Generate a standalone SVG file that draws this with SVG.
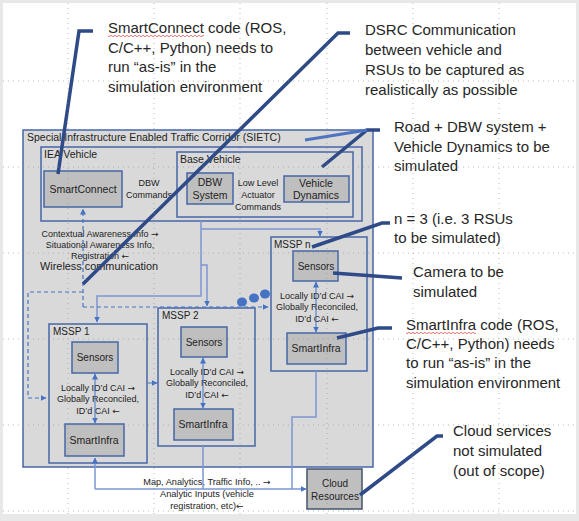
<svg xmlns="http://www.w3.org/2000/svg" width="579" height="521" viewBox="0 0 579 521">
<defs>
<marker id="ah" viewBox="0 0 6 6" refX="5.5" refY="3" markerWidth="6" markerHeight="6" markerUnits="userSpaceOnUse" orient="auto-start-reverse">
<path d="M0,0 L6,3 L0,6 z" fill="#4472c4"/>
</marker>
<style>
text{font-family:"Liberation Sans",Arial,sans-serif;fill:#222}
.ar{font-family:"DejaVu Sans",sans-serif}
.cont{fill:#d9d9d9;stroke:#4766a8;stroke-width:1.5}
.box{fill:#bfbfbf;stroke:#4766a8;stroke-width:1.5}
.lbl{font-size:10.5px}
.bl{font-size:10.5px;text-anchor:middle}
.sm{font-size:9px;text-anchor:middle}
.co{font-size:15px;fill:#262626}
.cl{fill:none;stroke:#2e4a87;stroke-width:3.5;stroke-linejoin:miter}
.ln{fill:none;stroke:#7d96d2;stroke-width:1.5}
.dsh{fill:none;stroke:#4472c4;stroke-width:1.2;stroke-dasharray:4 3}
.dbl{fill:none;stroke:#4472c4;stroke-width:1}
.grid{stroke:#8c8c8c;stroke-width:0.8;stroke-dasharray:1 4;opacity:0.7}
.wave{fill:none;stroke:#e05050;stroke-width:0.8}
</style>
</defs>
<rect x="0" y="0" width="579" height="521" fill="#e8e8e8"/>
<rect x="3" y="3" width="573" height="511" fill="#ffffff"/>

<g id="sietc">
<rect class="cont" x="23" y="130" width="350" height="337"/>
<text class="lbl" x="27" y="141">Special Infrastructure Enabled Traffic Corridor (SIETC)</text>
</g>
<g id="iea-vehicle">
<rect class="cont" x="41" y="147" width="321" height="74"/>
<text class="lbl" x="44" y="158">IEA Vehicle</text>
<text class="sm" x="149" y="186">DBW</text>
<text class="sm" x="149" y="198">Commands</text>
</g>
<g id="base-vehicle">
<rect class="cont" x="177" y="152" width="176" height="65"/>
<text class="lbl" x="180" y="163">Base Vehicle</text>
<text class="sm" x="258" y="186">Low Level</text>
<text class="sm" x="258" y="198">Actuator</text>
<text class="sm" x="258" y="210">Commands</text>
</g>
<g id="smartconnect">
<rect class="box" x="44" y="171" width="78" height="36"/>
<text class="bl" x="83" y="193">SmartConnect</text>
</g>
<g id="dbw-system">
<rect class="box" x="187" y="173" width="46" height="31"/>
<text class="bl" x="210" y="186">DBW</text>
<text class="bl" x="210" y="199">System</text>
</g>
<g id="vehicle-dynamics">
<rect class="box" x="284" y="176" width="65" height="26"/>
<text class="bl" x="316" y="187">Vehicle</text>
<text class="bl" x="316" y="199">Dynamics</text>
</g>

<g id="wireless-labels">
<text class="sm" x="100" y="237">Contextual Awareness Info <tspan class="ar">→</tspan></text>
<text class="sm" x="100" y="248">Situational Awareness Info,</text>
<text class="sm" x="100" y="258.5">Registration <tspan class="ar">←</tspan></text>
<text x="40" y="270" style="font-size:10.9px">Wireless communication</text>
</g>

<g id="mssp1">
<rect class="cont" x="49" y="324" width="98" height="139"/>
<text x="53" y="335" style="font-size:10px">MSSP 1</text>
<rect class="box" x="72" y="342" width="46" height="31"/>
<text class="bl" x="95" y="361" style="font-size:10px">Sensors</text>
<rect class="box" x="65" y="424" width="59" height="32"/>
<text class="bl" x="94" y="444">SmartInfra</text>
<text class="sm" x="98" y="391">Locally ID’d CAI <tspan class="ar">→</tspan></text>
<text class="sm" x="98" y="402">Globally Reconciled,</text>
<text class="sm" x="98" y="414">ID’d CAI <tspan class="ar">←</tspan></text>
</g>
<g id="mssp2">
<rect class="cont" x="158" y="308" width="97" height="138"/>
<text x="162" y="319" style="font-size:10px">MSSP 2</text>
<rect class="box" x="181" y="327" width="46" height="30"/>
<text class="bl" x="204" y="346" style="font-size:10px">Sensors</text>
<rect class="box" x="174" y="409" width="59" height="31"/>
<text class="bl" x="203" y="428">SmartInfra</text>
<text class="sm" x="207" y="375">Locally ID’d CAI <tspan class="ar">→</tspan></text>
<text class="sm" x="207" y="386">Globally Reconciled,</text>
<text class="sm" x="207" y="398">ID’d CAI <tspan class="ar">←</tspan></text>
</g>
<g id="msspn">
<rect class="cont" x="271" y="237" width="96" height="134"/>
<text x="274" y="248" style="font-size:10px">MSSP n</text>
<rect class="box" x="293" y="251" width="45" height="30"/>
<text class="bl" x="316" y="270" style="font-size:10px">Sensors</text>
<rect class="box" x="287" y="333" width="59" height="31"/>
<text class="bl" x="316" y="352">SmartInfra</text>
<text class="sm" x="317" y="299">Locally ID’d CAI <tspan class="ar">→</tspan></text>
<text class="sm" x="317" y="310">Globally Reconciled,</text>
<text class="sm" x="317" y="322">ID’d CAI <tspan class="ar">←</tspan></text>
</g>
<g id="ellipsis" fill="#4472c4">
<ellipse cx="242" cy="302" rx="5" ry="4.5"/>
<ellipse cx="254" cy="298" rx="5" ry="4.5"/>
<ellipse cx="265" cy="294" rx="5" ry="4.5"/>
</g>
<g id="cloud-resources">
<rect x="307" y="469" width="55" height="40" fill="#bfbfbf" stroke="#44546a" stroke-width="1.5"/>
<text class="bl" x="335" y="487" style="font-size:10px">Cloud</text>
<text class="bl" x="335" y="500" style="font-size:10px">Resources</text>
</g>
<g id="cloud-labels">
<text class="sm" x="207" y="485" style="font-size:9.2px">Map, Analytics, Traffic Info, .. <tspan class="ar">→</tspan></text>
<text class="sm" x="207" y="497" style="font-size:9.2px">Analytic Inputs  (vehicle</text>
<text class="sm" x="207" y="509" style="font-size:9.2px">registration, etc)<tspan class="ar">←</tspan></text>
</g>

<g id="connectors">
<path class="ln" d="M201,221 V296 H97 V322" marker-end="url(#ah)"/>
<path class="ln" d="M201,229 H320 V236" marker-end="url(#ah)"/>
<path class="ln" d="M201,265 H207 V306" marker-end="url(#ah)"/>
<path class="ln" d="M316,371 V417 H292 V489"/>
<path class="ln" d="M203,446 V489"/>
<path class="ln" d="M95,489 V458" marker-end="url(#ah)"/>
<path class="ln" d="M95,489 H306" marker-end="url(#ah)"/>
<path class="dsh" d="M83,307 V209" marker-end="url(#ah)"/>
<path class="dsh" d="M83,307 H268" marker-end="url(#ah)"/>
<path class="dsh" d="M83,292 H28 V398 H46" marker-end="url(#ah)"/>
<path class="dsh" d="M148,383 H157" marker-end="url(#ah)"/>
<path class="dbl" d="M95,374 V423" marker-start="url(#ah)" marker-end="url(#ah)"/>
<path class="dbl" d="M203,358 V408" marker-start="url(#ah)" marker-end="url(#ah)"/>
<path class="dbl" d="M316,282 V332" marker-start="url(#ah)" marker-end="url(#ah)"/>
</g>

<g id="callouts">
<path class="cl" d="M93,31 H79 L58,174"/>
<path class="cl" d="M350,33 H338 L83,284"/>
<path class="cl" d="M380,130 H367 L322,167"/>
<path d="M367,130 L305,140" fill="none" stroke="#4d74c0" stroke-width="3"/>
<path class="cl" d="M390,223 H382 L312,247"/>
<path class="cl" d="M333,273 L402,278"/>
<path class="cl" d="M337,338 L378,328 H392"/>
<path class="cl" d="M360,495 L437,436 H443"/>
</g>

<g id="callout-texts">
<text class="co" x="108" y="33">SmartConnect code (ROS,</text>
<text class="co" x="108" y="53">C/C++, Python) needs to</text>
<text class="co" x="108" y="72">run “as-is” in the</text>
<text class="co" x="108" y="92">simulation environment</text>
<path class="wave" d="M108,36 q1,1.4 2,0 t2,0 t2,0 t2,0 t2,0 t2,0 t2,0 t2,0 t2,0 t2,0 t2,0 t2,0 t2,0 t2,0 t2,0 t2,0 t2,0 t2,0 t2,0 t2,0 t2,0 t2,0 t2,0 t2,0 t2,0 t2,0 t2,0 t2,0 t2,0 t2,0 t2,0 t2,0 t2,0 t2,0 t2,0 t2,0 t2,0 t2,0 t2,0 t2,0 t2,0 t2,0 t2,0 t2,0 t2,0 t2,0 t2,0 t2,0"/>
<text class="co" x="365" y="35">DSRC Communication</text>
<text class="co" x="365" y="55">between vehicle and</text>
<text class="co" x="365" y="75">RSUs to be captured as</text>
<text class="co" x="365" y="95">realistically as possible</text>
<text class="co" x="394" y="132">Road + DBW system +</text>
<text class="co" x="394" y="152">Vehicle Dynamics to be</text>
<text class="co" x="394" y="171">simulated</text>
<text class="co" x="394" y="224">n = 3 (i.e. 3 RSUs</text>
<text class="co" x="394" y="243">to be simulated)</text>
<text class="co" x="413" y="277">Camera to be</text>
<text class="co" x="413" y="297">simulated</text>
<text class="co" x="406" y="330">SmartInfra code (ROS,</text>
<text class="co" x="406" y="349">C/C++, Python) needs</text>
<text class="co" x="406" y="368">to run “as-is” in the</text>
<text class="co" x="406" y="388">simulation environment</text>
<path class="wave" d="M406,333 q1,1.4 2,0 t2,0 t2,0 t2,0 t2,0 t2,0 t2,0 t2,0 t2,0 t2,0 t2,0 t2,0 t2,0 t2,0 t2,0 t2,0 t2,0 t2,0 t2,0 t2,0 t2,0 t2,0 t2,0 t2,0 t2,0 t2,0 t2,0 t2,0 t2,0 t2,0 t2,0 t2,0 t2,0 t2,0 t2,0"/>
<text class="co" x="453" y="436">Cloud services</text>
<text class="co" x="453" y="456">not simulated</text>
<text class="co" x="453" y="476">(out of scope)</text>
</g>

<g id="gridlines" class="grid">
<line x1="3" y1="81" x2="576" y2="81"/>
<line x1="3" y1="167" x2="576" y2="167"/>
<line x1="3" y1="253" x2="576" y2="253"/>
<line x1="3" y1="339" x2="576" y2="339"/>
<line x1="3" y1="425" x2="576" y2="425"/>
<line x1="3" y1="511" x2="576" y2="511"/>
<line x1="68" y1="3" x2="68" y2="514"/>
<line x1="154" y1="3" x2="154" y2="514"/>
<line x1="240" y1="3" x2="240" y2="514"/>
<line x1="327" y1="3" x2="327" y2="514"/>
<line x1="413" y1="3" x2="413" y2="514"/>
<line x1="499" y1="3" x2="499" y2="514"/>
</g>
</svg>
